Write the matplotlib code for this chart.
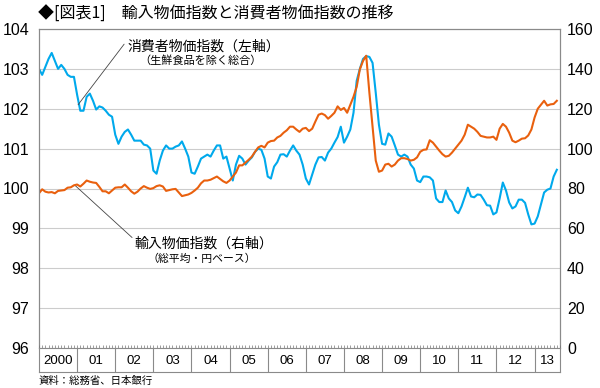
import matplotlib
matplotlib.use("Agg")
import matplotlib.pyplot as plt

JP = ["Noto Sans CJK JP", "DejaVu Sans"]
NUM = ["Liberation Sans", "DejaVu Sans"]

BLUE = "#00a9ec"
ORANGE = "#e9600e"
GRAY = "#8a8a8a"

# 消費者物価指数（生鮮食品を除く総合）, left axis, monthly from Jan 2000
cpi = [
    103.0, 102.85, 103.05, 103.25, 103.4, 103.2, 103.0, 103.1, 103.0, 102.85,
    102.8, 102.8, 102.35, 101.95, 101.95, 102.3, 102.38, 102.2, 101.98, 102.06,
    102.03, 101.95, 101.85, 101.8, 101.35, 101.12, 101.3, 101.42, 101.48, 101.35,
    101.2, 101.2, 101.2, 101.1, 101.08, 101.0, 100.45, 100.37, 100.7, 100.95,
    101.08, 101.0, 101.0, 101.05, 101.08, 101.18, 101.0, 100.8, 100.4, 100.37,
    100.55, 100.75, 100.8, 100.85, 100.8, 100.95, 101.08, 101.08, 100.75, 100.8,
    100.5, 100.2, 100.6, 100.82, 100.75, 100.6, 100.7, 100.78, 100.92, 101.0,
    100.97, 100.75, 100.3, 100.25, 100.55, 100.66, 100.85, 100.86, 100.8, 100.95,
    101.08, 100.95, 100.85, 100.6, 100.25, 100.1, 100.35, 100.6, 100.78, 100.79,
    100.7, 100.9, 101.0, 101.15, 101.29, 101.55, 101.15, 101.3, 101.48, 101.9,
    102.7, 103.0, 103.25, 103.32, 103.3, 103.15, 102.4, 101.6, 101.12, 101.1,
    101.38, 101.3, 101.08, 100.85, 100.8, 100.85, 100.8, 100.6, 100.5, 100.2,
    100.16, 100.3, 100.3, 100.28, 100.2, 99.75, 99.66, 99.66, 99.95, 99.75,
    99.66, 99.45, 99.38, 99.55, 99.78, 100.02, 99.8, 99.78, 99.85, 99.84,
    99.72, 99.58, 99.57, 99.35, 99.4, 99.75, 100.15, 99.95, 99.65, 99.5,
    99.55, 99.72, 99.72, 99.64, 99.35, 99.1, 99.12, 99.3, 99.6, 99.9,
    99.97, 100.0, 100.3, 100.47,
]

# 輸入物価指数（総平均・円ベース）, right axis
imp = [
    77.6, 79.6, 78.4, 78.0, 78.2, 77.6, 78.8, 79.0, 79.2, 80.4,
    80.6, 81.6, 82.0, 81.0, 82.4, 84.0, 83.4, 83.0, 82.8, 80.8,
    78.6, 78.6, 77.6, 79.0, 80.4, 80.6, 80.6, 82.0, 80.4, 78.6,
    77.4, 78.4, 80.0, 81.2, 80.4, 79.8, 80.2, 81.2, 81.6, 81.0,
    78.8, 79.2, 79.6, 79.8, 78.0, 76.2, 76.6, 77.0, 77.8, 79.0,
    80.4, 82.6, 84.0, 84.0, 84.4, 85.2, 86.0, 84.8, 83.6, 82.8,
    84.0, 86.0, 88.0, 91.6, 91.6, 93.0, 94.4, 96.0, 98.4, 100.6,
    101.4, 100.6, 103.0, 103.8, 104.0, 105.6, 106.4, 108.0, 109.2, 111.0,
    111.0, 109.6, 108.4, 110.0, 110.4, 108.8, 110.0, 113.6, 117.0, 117.6,
    116.8, 115.0, 116.4, 118.0, 121.2, 119.4, 120.4, 118.0, 122.0, 126.0,
    131.0, 139.8, 144.0, 146.6, 128.0, 111.0, 94.0, 88.4, 89.0, 92.0,
    92.4, 91.0, 92.0, 94.0, 95.2, 95.2, 94.8, 94.0, 94.4, 95.6,
    98.4, 99.4, 99.6, 104.2, 103.0, 101.0, 99.0, 97.2, 96.0, 96.4,
    98.0, 100.0, 102.0, 104.0, 107.0, 112.0, 111.0, 110.0, 108.4, 106.4,
    106.0, 105.6, 105.6, 106.0, 104.4, 110.0, 112.4, 111.0, 108.0, 104.0,
    103.2, 104.0, 105.0, 105.2, 106.6, 109.6, 115.6, 120.0, 122.0, 124.0,
    121.6, 122.2, 122.4, 124.0,
]

years = ["2000", "01", "02", "03", "04", "05", "06", "07",
         "08", "09", "10", "11", "12", "13"]
left_ticks = list(range(96, 105))
right_ticks = list(range(0, 161, 20))

months = list(range(len(cpi)))
xmax = 164

fig = plt.figure(figsize=(6, 3.88), dpi=100)
ax = fig.add_axes([39 / 600, 1 - 348 / 388, 521 / 600, 319 / 388])
ax.plot(months, cpi, color=BLUE, lw=1.5)
ax.set_xlim(0, xmax)
ax.set_ylim(96, 104)
ax.set_yticks(left_ticks)
ax.set_xticks([])
ax.grid(axis="y", color="#cccccc", lw=0.8)
ax.tick_params(axis="y", length=0, pad=7, labelsize=11.5)
for t in ax.get_yticklabels():
    t.set_family(NUM)
for s in ax.spines.values():
    s.set_color(GRAY)
    s.set_linewidth(0.8)
ax.spines["bottom"].set_visible(False)

ax2 = ax.twinx()
ax2.plot(months, imp, color=ORANGE, lw=1.5)
ax2.set_ylim(0, 160)
ax2.set_yticks(right_ticks)
ax2.tick_params(axis="y", length=0, pad=5, labelsize=11.5)
for t in ax2.get_yticklabels():
    t.set_family(NUM)
for s in ax2.spines.values():
    s.set_color(GRAY)
    s.set_linewidth(0.8)
ax2.spines["bottom"].set_visible(False)

# year box under the plot
bx = fig.add_axes([39 / 600, 1 - 372 / 388, 521 / 600, 24 / 388])
bx.set_xlim(0, xmax)
bx.set_ylim(0, 1)
bx.set_yticks([])
bx.set_xticks([])
bx.set_xticks(range(0, xmax + 1), minor=True)
bx.tick_params(which="minor", top=True, bottom=False, direction="out",
               length=2.2, width=0.5, color="#777777", labelbottom=False)
for s in bx.spines.values():
    s.set_color(GRAY)
    s.set_linewidth(0.8)
for k, lab in enumerate(years):
    start = 12 * k
    end = min(12 * (k + 1), xmax)
    if k > 0:
        bx.axvline(start, color=GRAY, lw=0.8)
    bx.text((start + end) / 2, 0.45, lab, ha="center", va="center",
            fontsize=9.5, family=NUM)

# labels with leader lines
lead = dict(arrowstyle="-", color="#444444", lw=0.6, shrinkA=0, shrinkB=0)
ax.annotate("", xy=(12.3, 102.1), xytext=(26.8, 103.62), arrowprops=lead)
ax.text(27.7, 103.57, "消費者物価指数（左軸）", ha="left", va="center",
        fontsize=10, family=JP)
ax.text(50.7, 103.2, "（生鮮食品を除く総合）", ha="center", va="center",
        fontsize=8, family=JP)

ax.annotate("", xy=(11.3, 100.08), xytext=(29.3, 98.77), arrowprops=lead)
ax.text(30.2, 98.62, "輸入物価指数（右軸）", ha="left", va="center",
        fontsize=10, family=JP)
ax.text(51.3, 98.24, "（総平均・円ベース）", ha="center", va="center",
        fontsize=7.8, family=JP)

fig.text(38 / 600, 1 - 14 / 388, "◆[図表1]\u3000輸入物価指数と消費者物価指数の推移",
         ha="left", va="center", fontsize=11.5, family=JP)
fig.text(39 / 600, 1 - 381 / 388, "資料：総務省、日本銀行",
         ha="left", va="center", fontsize=7.5, family=JP)

fig.savefig("out.png", dpi=100)
